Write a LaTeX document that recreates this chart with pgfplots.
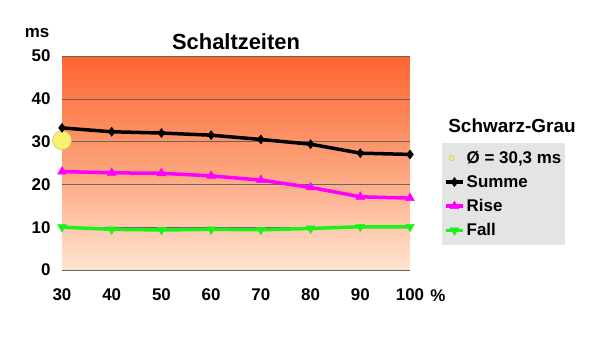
\documentclass[border=0pt]{standalone}
\usepackage{pgfplots}
\pgfplotsset{compat=1.18}
\usepackage{fontspec}
\setmainfont{Liberation Sans}
\definecolor{topc}{RGB}{255,100,48}
\definecolor{midc}{RGB}{252,160,118}
\definecolor{botc}{RGB}{255,228,210}
\definecolor{legbg}{RGB}{228,228,228}
\definecolor{ylw}{RGB}{248,240,110}
\definecolor{grn}{RGB}{30,240,30}
\definecolor{mag}{RGB}{255,0,255}
\begin{document}
\begin{tikzpicture}
\path[use as bounding box] (0,0) rectangle (600bp,352bp);
\begin{axis}[
  at={(62bp,82bp)}, anchor=south west,
  scale only axis, width=348bp, height=214bp,
  xmin=30, xmax=100, ymin=0, ymax=50,
  xtick={30,40,...,100}, ytick={0,10,...,50},
  axis line style={draw=none},
  major tick length=0pt,
  ymajorgrids, major grid style={draw=black!60, line width=0.6pt},
  axis background/.style={shade, top color=topc, bottom color=botc, middle color=midc},
  clip=false,
  /pgf/number format/assume math mode=true,
  tick label style={font=\bfseries\fontsize{17}{19}\selectfont},
  xticklabel style={yshift=-15bp},
  yticklabel style={xshift=-8bp},
  legend style={at={(1.092,0.593)}, anchor=north west, fill=legbg, draw=none,
    font=\bfseries\fontsize{17}{20}\selectfont, row sep=6.5bp, inner xsep=2bp, inner ysep=6bp},
  legend cell align=left,
]
\addplot[only marks, mark=*, mark size=9.5bp, mark options={fill=ylw, draw=ylw!80!black, line width=0.5pt},
  legend image code/.code={\fill[ylw, draw=ylw!80!black] (0.2cm,0) circle (2.5bp);}]
  coordinates {(30,30.3)};
\addlegendentry{Ø = 30,3 ms}
\addplot[black, line width=3.5bp, mark=diamond*, mark size=4.5bp, mark options={line width=0.5pt}]
  coordinates {(30,33.2) (40,32.3) (50,32.0) (60,31.5) (70,30.5) (80,29.4) (90,27.3) (100,27.0)};
\addlegendentry{Summe}
\addplot[mag, line width=3.5bp, mark=triangle*, mark size=5bp, mark options={line width=0.5pt}]
  coordinates {(30,23.0) (40,22.7) (50,22.6) (60,22.0) (70,21.0) (80,19.3) (90,17.1) (100,16.8)};
\addlegendentry{Rise}
\addplot[grn, line width=3.5bp, mark=triangle*, mark size=5bp, mark options={rotate=180, line width=0.5pt}]
  coordinates {(30,10.0) (40,9.5) (50,9.35) (60,9.5) (70,9.4) (80,9.7) (90,10.1) (100,10.1)};
\addlegendentry{Fall}
\end{axis}
\node[font=\bfseries\fontsize{22}{24}\selectfont] at (236bp,310bp) {Schaltzeiten};
\node[font=\bfseries\fontsize{17}{19}\selectfont] at (37bp,319bp) {ms};
\node[font=\bfseries\fontsize{17}{19}\selectfont] at (438bp,56bp) {\%};
\node[font=\bfseries\fontsize{19}{21}\selectfont] at (512bp,226bp) {Schwarz-Grau};
\end{tikzpicture}
\end{document}
